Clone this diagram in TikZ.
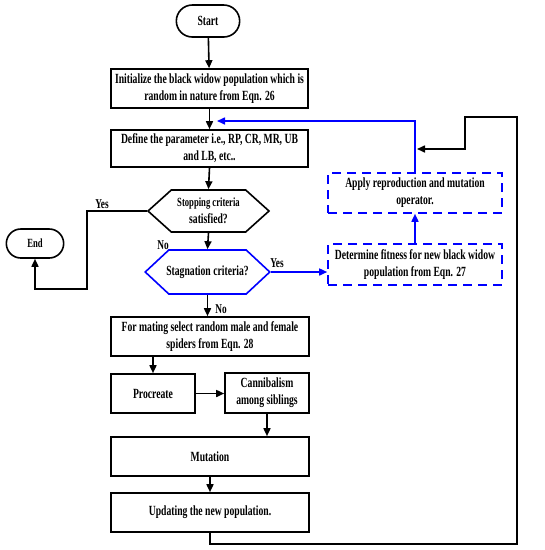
\documentclass[tikz,border=0pt]{standalone}
\usepackage{fontspec}
\setmainfont{Liberation Serif}[FakeStretch=0.69]
\usepackage{tikz}
\usetikzlibrary{arrows.meta, positioning, shapes.misc, shapes.symbols, calc}

\begin{document}
\begin{tikzpicture}[x=1pt, y=-1pt,
    txt/.style={font=\fontsize{14}{17}\selectfont\bfseries, align=center},
    proc/.style={txt, draw, line width=1.6pt, inner sep=2pt},
    term/.style={txt, draw, line width=1.6pt, rounded rectangle},
    hexa/.style={txt, draw, line width=1.6pt, signal, signal to=west and east,
                 signal pointer angle=84, inner sep=1pt},
    bproc/.style={proc, draw=blue, dash pattern=on 9pt off 6pt},
    line/.style={line width=1.6pt},
    arr/.style={line, -{Triangle[length=8pt, width=7pt]}},
    barr/.style={arr, draw=blue},
    lbl/.style={font=\fontsize{13.5}{15}\selectfont\bfseries}]
  \useasboundingbox (0,0) rectangle (545,550);
  % main column (pixel grid of the figure, y going down)
  \node[term, minimum width=70pt, minimum height=32pt] (start) at (208,21) {Start};
  \node[proc, minimum width=197pt, minimum height=39pt] (init) at (209.5,88.5)
    {Initialize the black widow population which is\\random in nature from Eqn. 26};
  \node[proc, minimum width=197pt, minimum height=37pt] (define) at (209.5,148.5)
    {Define the parameter i.e., RP, CR, MR, UB\\and LB, etc..};
  \node[hexa, minimum width=121pt, minimum height=42pt, inner xsep=-3pt] (stop) at (208.5,211)
    {\fontsize{12.5}{15}\selectfont Stopping criteria\\satisfied?};
  \node[hexa, draw=blue, minimum height=44pt, signal pointer angle=86,
        inner xsep=-2.5pt] (stag) at (207.5,272)
    {Stagnation criteria?};
  \node[term, minimum width=64pt, minimum height=29pt] (finish) at (35,243.5)
    {\fontsize{12.5}{14}\selectfont End};
  \node[proc, minimum width=198pt, minimum height=39pt] (mating) at (210,336.5)
    {For mating select random male and female\\spiders from Eqn. 28};
  \node[proc, minimum width=84pt, minimum height=39pt] (procreate) at (153,393.5) {Procreate};
  \node[proc, minimum width=84pt, minimum height=40pt] (cannibal) at (267,393)
    {Cannibalism\\among siblings};
  \node[proc, minimum width=198pt, minimum height=39pt] (mutation) at (210,456.5) {Mutation};
  \node[proc, minimum width=198pt, minimum height=39pt] (update) at (210,512.5)
    {Updating the new population.};
  % stagnation branch (blue, dashed)
  \node[bproc, minimum width=174pt, minimum height=40pt] (apply) at (415,193)
    {Apply reproduction and mutation\\operator.};
  \node[bproc, minimum width=174pt, minimum height=41pt] (fitness) at (415,264.5)
    {Determine fitness for new black widow\\population from Eqn. 27};
  % corner points
  \coordinate (join) at (217,121);
  \coordinate (yesA) at (87,289);
  \coordinate (loopB) at (517,544);
  \coordinate (loopT) at (517,117);
  \coordinate (loopL) at (465,117);
  \coordinate (loopM) at (465,149);
  % connectors
  \draw[arr] (start) -- (init);
  \draw[arr] (init) -- (define);
  \draw[arr] (define.south) -- (stop.north);
  \draw[arr] (stop.south) -- (stag.north);
  \draw[arr] (stop.west) -| (yesA) -| (finish.south);
  \draw[arr] (stag.south) -- (stag.south |- mating.north);
  \draw[barr] (stag.center -| stag.east) -- (stag.center -| fitness.west);
  \draw[barr] (fitness) -- (apply);
  \draw[barr] (apply.north) |- (join);
  \draw[arr] (procreate.north |- mating.south) -- (procreate.north);
  \draw[arr] (procreate) -- (cannibal.west |- procreate);
  \draw[arr] (cannibal.south) -- (cannibal.south |- mutation.north);
  \draw[arr] (mutation) -- (update);
  \draw[arr] (update.south) |- (loopB) -- (loopT) -- (loopL) -- (loopM)
    -- ($(loopM -| apply.north)+(2,0)$);
  % branch labels
  \node[lbl] (yes1) at (102,204) {Yes};
  \node[lbl] (no1) at (163,245) {No};
  \node[lbl] (yes2) at (277,263) {Yes};
  \node[lbl] (no2) at (221,309) {No};
\end{tikzpicture}
\end{document}
